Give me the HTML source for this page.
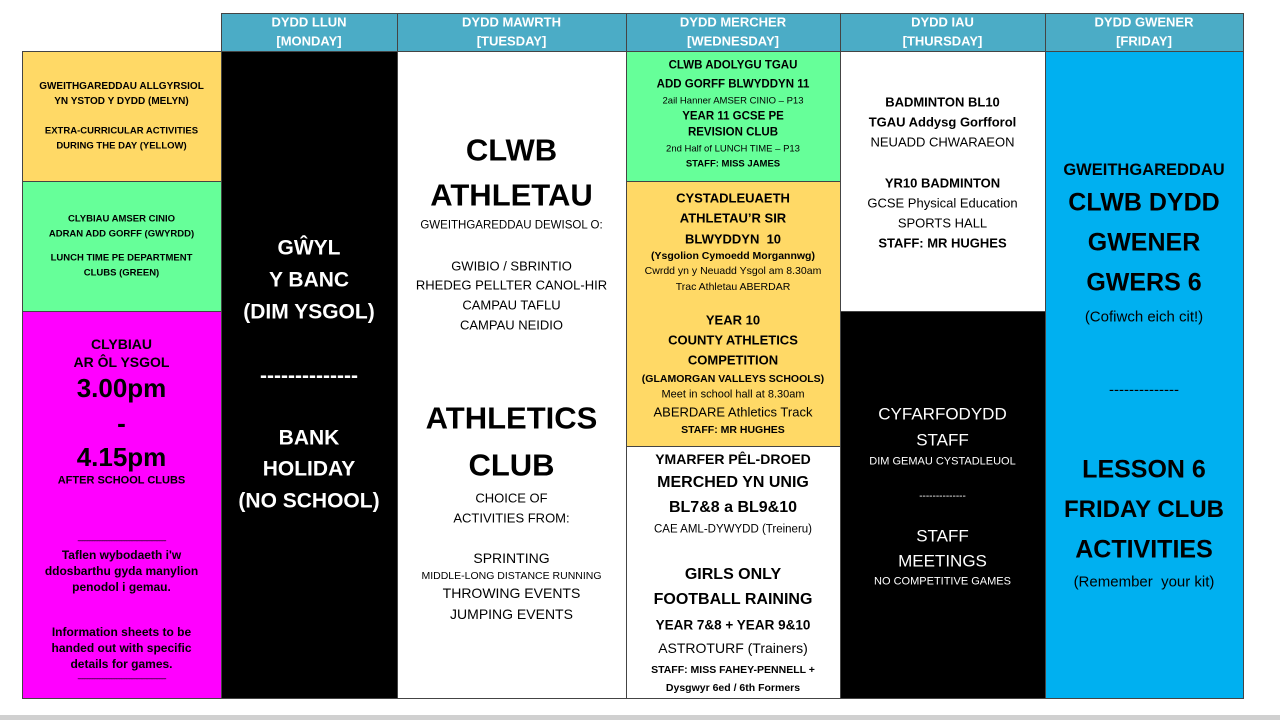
<!DOCTYPE html>
<html><head><meta charset="utf-8"><style>
body{margin:0;width:1280px;height:720px;background:#fff;position:relative;overflow:hidden;font-family:"Liberation Sans",sans-serif}
.c{position:absolute;box-sizing:border-box;border:1px solid #444}
.t{position:absolute;text-align:center;white-space:nowrap;transform:translateY(-50%);line-height:1}
.b{font-weight:bold}
.w{color:#fff}
</style></head><body>
<div style="position:absolute;left:0;top:715px;width:1280px;height:5px;background:#d0d0d0"></div>
<!-- headers -->
<div class="c" style="left:221px;top:13px;width:177px;height:39px;background:#4bacc6"></div>
<div class="c" style="left:397px;top:13px;width:230px;height:39px;background:#4bacc6"></div>
<div class="c" style="left:626px;top:13px;width:215px;height:39px;background:#4bacc6"></div>
<div class="c" style="left:840px;top:13px;width:206px;height:39px;background:#4bacc6"></div>
<div class="c" style="left:1045px;top:13px;width:199px;height:39px;background:#4bacc6"></div>
<!-- left column -->
<div class="c" style="left:22px;top:51px;width:200px;height:131px;background:#ffd966"></div>
<div class="c" style="left:22px;top:181px;width:200px;height:131px;background:#66ff99"></div>
<div class="c" style="left:22px;top:311px;width:200px;height:388px;background:#ff00ff"></div>
<!-- monday -->
<div class="c" style="left:221px;top:51px;width:177px;height:648px;background:#000"></div>
<!-- tuesday -->
<div class="c" style="left:397px;top:51px;width:230px;height:648px;background:#fff"></div>
<!-- wednesday -->
<div class="c" style="left:626px;top:51px;width:215px;height:131px;background:#66ff99"></div>
<div class="c" style="left:626px;top:181px;width:215px;height:266px;background:#ffd966"></div>
<div class="c" style="left:626px;top:446px;width:215px;height:253px;background:#fff"></div>
<!-- thursday -->
<div class="c" style="left:840px;top:51px;width:206px;height:261px;background:#fff"></div>
<div class="c" style="left:840px;top:311px;width:206px;height:388px;background:#000"></div>
<!-- friday -->
<div class="c" style="left:1045px;top:51px;width:199px;height:648px;background:#00b0f0"></div>

<!-- header text -->
<div class="t b w" style="left:221px;width:176px;top:22px;font-size:13px">DYDD LLUN</div>
<div class="t b w" style="left:221px;width:176px;top:41px;font-size:13px">[MONDAY]</div>
<div class="t b w" style="left:397px;width:229px;top:22px;font-size:13px">DYDD MAWRTH</div>
<div class="t b w" style="left:397px;width:229px;top:41px;font-size:13px">[TUESDAY]</div>
<div class="t b w" style="left:626px;width:214px;top:22px;font-size:13px">DYDD MERCHER</div>
<div class="t b w" style="left:626px;width:214px;top:41px;font-size:13px">[WEDNESDAY]</div>
<div class="t b w" style="left:840px;width:205px;top:22px;font-size:13px">DYDD IAU</div>
<div class="t b w" style="left:840px;width:205px;top:41px;font-size:13px">[THURSDAY]</div>
<div class="t b w" style="left:1045px;width:198px;top:22px;font-size:13px">DYDD GWENER</div>
<div class="t b w" style="left:1045px;width:198px;top:41px;font-size:13px">[FRIDAY]</div>

<!-- left yellow -->
<div class="t b" style="left:22px;width:199px;top:87px;font-size:10px">GWEITHGAREDDAU ALLGYRSIOL</div>
<div class="t b" style="left:22px;width:199px;top:102px;font-size:10px">YN YSTOD Y DYDD (MELYN)</div>
<div class="t b" style="left:22px;width:199px;top:131px;font-size:9.5px">EXTRA-CURRICULAR ACTIVITIES</div>
<div class="t b" style="left:22px;width:199px;top:146px;font-size:9.5px">DURING THE DAY (YELLOW)</div>
<!-- left green -->
<div class="t b" style="left:22px;width:199px;top:219px;font-size:9.5px">CLYBIAU AMSER CINIO</div>
<div class="t b" style="left:22px;width:199px;top:234px;font-size:9.5px">ADRAN ADD GORFF (GWYRDD)</div>
<div class="t b" style="left:22px;width:199px;top:258px;font-size:9.5px">LUNCH TIME PE DEPARTMENT</div>
<div class="t b" style="left:22px;width:199px;top:273px;font-size:9.5px">CLUBS (GREEN)</div>
<!-- left magenta -->
<div class="t b" style="left:22px;width:199px;top:344px;font-size:14px">CLYBIAU</div>
<div class="t b" style="left:22px;width:199px;top:362px;font-size:14px">AR ÔL YSGOL</div>
<div class="t b" style="left:22px;width:199px;top:388px;font-size:26px">3.00pm</div>
<div class="t b" style="left:22px;width:199px;top:423px;font-size:26px">-</div>
<div class="t b" style="left:22px;width:199px;top:457px;font-size:26px">4.15pm</div>
<div class="t b" style="left:22px;width:199px;top:481px;font-size:11px">AFTER SCHOOL CLUBS</div>
<div class="t" style="left:22px;width:199px;top:541px;font-size:8px;letter-spacing:-1px">-----------------------------------------------------</div>
<div class="t b" style="left:22px;width:199px;top:555px;font-size:12px">Taflen wybodaeth i'w</div>
<div class="t b" style="left:22px;width:199px;top:571px;font-size:12px">ddosbarthu gyda manylion</div>
<div class="t b" style="left:22px;width:199px;top:587px;font-size:12px">penodol i gemau.</div>
<div class="t b" style="left:22px;width:199px;top:632px;font-size:12px">Information sheets to be</div>
<div class="t b" style="left:22px;width:199px;top:648px;font-size:12px">handed out with specific</div>
<div class="t b" style="left:22px;width:199px;top:664px;font-size:12px">details for games.</div>
<div class="t" style="left:22px;width:199px;top:679px;font-size:8px;letter-spacing:-1px">-----------------------------------------------------</div>

<!-- monday -->
<div class="t b w" style="left:221px;width:176px;top:248px;font-size:21px">GŴYL</div>
<div class="t b w" style="left:221px;width:176px;top:280px;font-size:21px">Y BANC</div>
<div class="t b w" style="left:221px;width:176px;top:312px;font-size:21px">(DIM YSGOL)</div>
<div class="t b w" style="left:221px;width:176px;top:376px;font-size:21px">--------------</div>
<div class="t b w" style="left:221px;width:176px;top:438px;font-size:21px">BANK</div>
<div class="t b w" style="left:221px;width:176px;top:469px;font-size:21px">HOLIDAY</div>
<div class="t b w" style="left:221px;width:176px;top:501px;font-size:21px">(NO SCHOOL)</div>

<!-- tuesday -->
<div class="t b" style="left:397px;width:229px;top:150px;font-size:31px">CLWB</div>
<div class="t b" style="left:397px;width:229px;top:195px;font-size:31px">ATHLETAU</div>
<div class="t" style="left:397px;width:229px;top:226px;font-size:11.5px">GWEITHGAREDDAU DEWISOL O:</div>
<div class="t" style="left:397px;width:229px;top:266px;font-size:13px">GWIBIO / SBRINTIO</div>
<div class="t" style="left:397px;width:229px;top:285px;font-size:13px">RHEDEG PELLTER CANOL-HIR</div>
<div class="t" style="left:397px;width:229px;top:305px;font-size:13px">CAMPAU TAFLU</div>
<div class="t" style="left:397px;width:229px;top:325px;font-size:13px">CAMPAU NEIDIO</div>
<div class="t b" style="left:397px;width:229px;top:418px;font-size:31px">ATHLETICS</div>
<div class="t b" style="left:397px;width:229px;top:465px;font-size:31px">CLUB</div>
<div class="t" style="left:397px;width:229px;top:498px;font-size:13px">CHOICE OF</div>
<div class="t" style="left:397px;width:229px;top:518px;font-size:13px">ACTIVITIES FROM:</div>
<div class="t" style="left:397px;width:229px;top:558px;font-size:14px">SPRINTING</div>
<div class="t" style="left:397px;width:229px;top:576px;font-size:10.5px">MIDDLE-LONG DISTANCE RUNNING</div>
<div class="t" style="left:397px;width:229px;top:593px;font-size:14px">THROWING EVENTS</div>
<div class="t" style="left:397px;width:229px;top:614px;font-size:14px">JUMPING EVENTS</div>

<!-- wednesday green -->
<div class="t b" style="left:626px;width:214px;top:66px;font-size:11.5px">CLWB ADOLYGU TGAU</div>
<div class="t b" style="left:626px;width:214px;top:85px;font-size:11.5px">ADD GORFF BLWYDDYN 11</div>
<div class="t" style="left:626px;width:214px;top:101px;font-size:9.5px">2ail Hanner AMSER CINIO – P13</div>
<div class="t b" style="left:626px;width:214px;top:117px;font-size:11.5px">YEAR 11 GCSE PE</div>
<div class="t b" style="left:626px;width:214px;top:133px;font-size:11.5px">REVISION CLUB</div>
<div class="t" style="left:626px;width:214px;top:149px;font-size:9.5px">2nd Half of LUNCH TIME – P13</div>
<div class="t b" style="left:626px;width:214px;top:164px;font-size:9.5px">STAFF: MISS JAMES</div>
<!-- wednesday yellow -->
<div class="t b" style="left:626px;width:214px;top:198px;font-size:13px">CYSTADLEUAETH</div>
<div class="t b" style="left:626px;width:214px;top:218px;font-size:13px">ATHLETAU’R SIR</div>
<div class="t b" style="left:626px;width:214px;top:239px;font-size:13px">BLWYDDYN&nbsp; 10</div>
<div class="t b" style="left:626px;width:214px;top:256px;font-size:10.5px">(Ysgolion Cymoedd Morgannwg)</div>
<div class="t" style="left:626px;width:214px;top:271px;font-size:10.5px">Cwrdd yn y Neuadd Ysgol am 8.30am</div>
<div class="t" style="left:626px;width:214px;top:287px;font-size:10.5px">Trac Athletau ABERDAR</div>
<div class="t b" style="left:626px;width:214px;top:320px;font-size:13px">YEAR 10</div>
<div class="t b" style="left:626px;width:214px;top:340px;font-size:13px">COUNTY ATHLETICS</div>
<div class="t b" style="left:626px;width:214px;top:360px;font-size:13px">COMPETITION</div>
<div class="t b" style="left:626px;width:214px;top:379px;font-size:10.5px">(GLAMORGAN VALLEYS SCHOOLS)</div>
<div class="t" style="left:626px;width:214px;top:395px;font-size:11px">Meet in school hall at 8.30am</div>
<div class="t" style="left:626px;width:214px;top:412px;font-size:13px">ABERDARE Athletics Track</div>
<div class="t b" style="left:626px;width:214px;top:430px;font-size:10.5px">STAFF: MR HUGHES</div>
<!-- wednesday white -->
<div class="t b" style="left:626px;width:214px;top:459px;font-size:14px">YMARFER PÊL-DROED</div>
<div class="t b" style="left:626px;width:214px;top:483px;font-size:16px">MERCHED YN UNIG</div>
<div class="t b" style="left:626px;width:214px;top:508px;font-size:16px">BL7&amp;8 a BL9&amp;10</div>
<div class="t" style="left:626px;width:214px;top:530px;font-size:11.5px">CAE AML-DYWYDD (Treineru)</div>
<div class="t b" style="left:626px;width:214px;top:575px;font-size:16px">GIRLS ONLY</div>
<div class="t b" style="left:626px;width:214px;top:600px;font-size:16px">FOOTBALL RAINING</div>
<div class="t b" style="left:626px;width:214px;top:625px;font-size:13.5px">YEAR 7&amp;8 + YEAR 9&amp;10</div>
<div class="t" style="left:626px;width:214px;top:648px;font-size:14px">ASTROTURF (Trainers)</div>
<div class="t b" style="left:626px;width:214px;top:670px;font-size:10.5px">STAFF: MISS FAHEY-PENNELL +</div>
<div class="t b" style="left:626px;width:214px;top:688px;font-size:10.5px">Dysgwyr 6ed / 6th Formers</div>

<!-- thursday white -->
<div class="t b" style="left:840px;width:205px;top:102px;font-size:13px">BADMINTON BL10</div>
<div class="t b" style="left:840px;width:205px;top:122px;font-size:13px">TGAU Addysg Gorfforol</div>
<div class="t" style="left:840px;width:205px;top:142px;font-size:13px">NEUADD CHWARAEON</div>
<div class="t b" style="left:840px;width:205px;top:183px;font-size:13px">YR10 BADMINTON</div>
<div class="t" style="left:840px;width:205px;top:203px;font-size:13px">GCSE Physical Education</div>
<div class="t" style="left:840px;width:205px;top:223px;font-size:13px">SPORTS HALL</div>
<div class="t b" style="left:840px;width:205px;top:243px;font-size:13px">STAFF: MR HUGHES</div>
<!-- thursday black -->
<div class="t w" style="left:840px;width:205px;top:414px;font-size:17px">CYFARFODYDD</div>
<div class="t w" style="left:840px;width:205px;top:440px;font-size:17px">STAFF</div>
<div class="t w" style="left:840px;width:205px;top:462px;font-size:11px">DIM GEMAU CYSTADLEUOL</div>
<div class="t w" style="left:840px;width:205px;top:497px;font-size:10px">--------------</div>
<div class="t w" style="left:840px;width:205px;top:536px;font-size:17px">STAFF</div>
<div class="t w" style="left:840px;width:205px;top:561px;font-size:17px">MEETINGS</div>
<div class="t w" style="left:840px;width:205px;top:582px;font-size:11px">NO COMPETITIVE GAMES</div>

<!-- friday -->
<div class="t b" style="left:1045px;width:198px;top:170px;font-size:16.5px">GWEITHGAREDDAU</div>
<div class="t b" style="left:1045px;width:198px;top:203px;font-size:25px">CLWB DYDD</div>
<div class="t b" style="left:1045px;width:198px;top:243px;font-size:25px">GWENER</div>
<div class="t b" style="left:1045px;width:198px;top:283px;font-size:25px">GWERS 6</div>
<div class="t" style="left:1045px;width:198px;top:317px;font-size:15px">(Cofiwch eich cit!)</div>
<div class="t" style="left:1045px;width:198px;top:390px;font-size:15px">--------------</div>
<div class="t b" style="left:1045px;width:198px;top:470px;font-size:25px">LESSON 6</div>
<div class="t b" style="left:1045px;width:198px;top:510px;font-size:24px">FRIDAY CLUB</div>
<div class="t b" style="left:1045px;width:198px;top:550px;font-size:25px">ACTIVITIES</div>
<div class="t" style="left:1045px;width:198px;top:582px;font-size:15px">(Remember&nbsp; your kit)</div>
</body></html>
